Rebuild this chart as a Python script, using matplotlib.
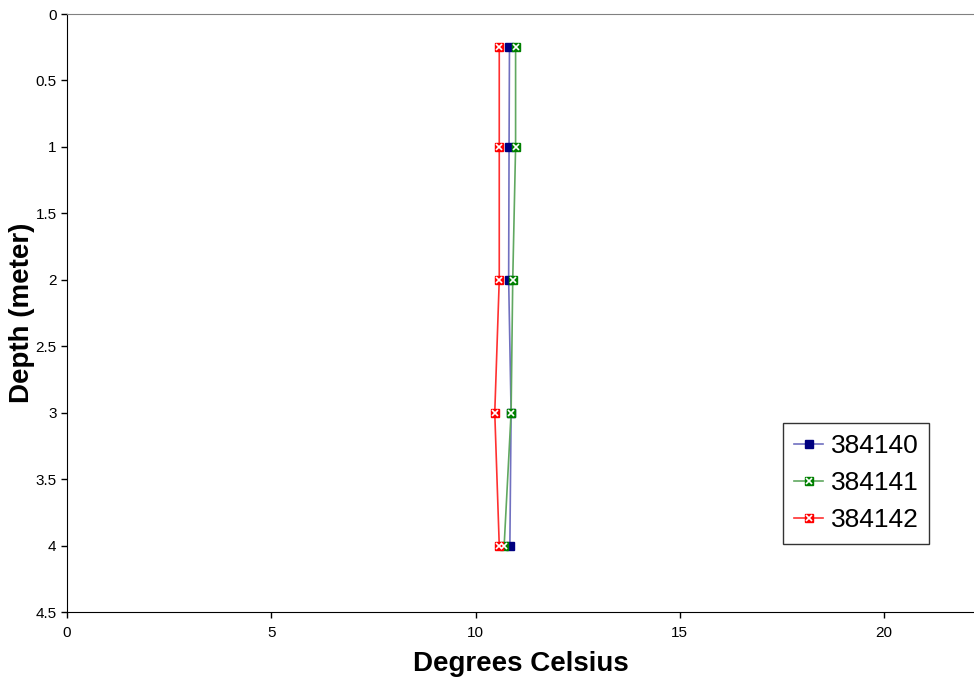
import matplotlib
matplotlib.use("Agg")
import matplotlib.pyplot as plt
from matplotlib.legend_handler import HandlerTuple

plt.rcParams['font.family'] = ['Liberation Sans', 'DejaVu Sans']

depth = [0.25, 1.0, 2.0, 3.0, 4.0]
s384140 = [10.83, 10.82, 10.81, 10.87, 10.84]
s384141 = [10.98, 10.98, 10.91, 10.87, 10.70]
s384142 = [10.58, 10.58, 10.58, 10.47, 10.58]
series_names = ["384140", "384141", "384142"]
xticks = [0, 5, 10, 15, 20]
yticks = [0, 0.5, 1, 1.5, 2, 2.5, 3, 3.5, 4, 4.5]

fig = plt.figure(figsize=(9.74, 6.8), dpi=100)
ax = fig.add_axes([67/974, 1 - 612/680, 1 - 67/974, (612 - 14)/680])

styles = [
    (s384140, '#000080', '#7070c0', False),
    (s384141, '#008000', '#60a860', True),
    (s384142, '#ff0000', '#ff3030', True),
]
handles = []
for (vals, mc, lc, xmark), name in zip(styles, series_names):
    ln, = ax.plot(vals, depth, color=lc, lw=1.2, marker='s', ms=6,
                  mfc=mc, mec=mc, zorder=3)
    if xmark:
        xm, = ax.plot(vals, depth, ls='none', marker='x', ms=4.5, mew=1.2,
                      mec='white', zorder=4)
        handles.append((ln, xm))
    else:
        handles.append(ln)

ax.set_xlim(0, 22.2)
ax.set_ylim(4.5, 0)
ax.set_xticks(xticks)
ax.set_yticks(yticks)
ax.set_xticklabels([str(t) for t in xticks])
ax.set_yticklabels([f"{t:g}" for t in yticks])
ax.tick_params(axis='both', labelsize=11, direction='out', length=4, width=1)
ax.tick_params(axis='x', pad=6)

ax.spines['right'].set_visible(False)
ax.spines['top'].set_color('#808080')
for s in ['left', 'bottom']:
    ax.spines[s].set_color('black')

ax.set_xlabel("Degrees Celsius", fontsize=20, fontweight='bold', labelpad=8)
ax.set_ylabel("Depth (meter)", fontsize=20, fontweight='bold', labelpad=0)

leg = ax.legend(handles, series_names, loc='upper left',
                bbox_to_anchor=((783 - 67) / 907, 1 - (423 - 14) / 598),
                fontsize=19, frameon=True, fancybox=False, edgecolor='black',
                handler_map={tuple: HandlerTuple(ndivide=1)},
                handlelength=1.1, handletextpad=0.28, borderpad=0.42,
                labelspacing=0.5, borderaxespad=0)
leg.get_frame().set_linewidth(1.0)

fig.savefig("out.png", dpi=100)
